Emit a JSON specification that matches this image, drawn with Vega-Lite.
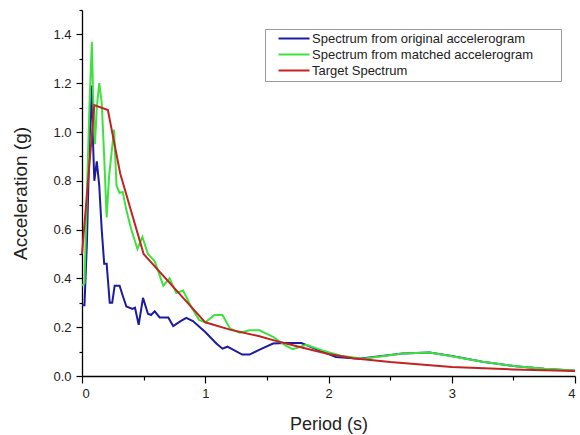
{
  "$schema": "https://vega.github.io/schema/vega-lite/v6.json",
  "width": 493,
  "height": 366,
  "autosize": {"type": "none"},
  "padding": {"left": 82, "top": 10, "right": 5, "bottom": 59},
  "background": "white",
  "config": {
    "view": {"stroke": null},
    "font": "Liberation Sans",
    "axis": {"domainColor": "#000", "tickColor": "#000", "labelColor": "#222", "titleColor": "#222", "grid": false, "labelFont": "Liberation Sans", "titleFont": "Liberation Sans", "titleFontWeight": "normal", "domainWidth": 1.3, "tickWidth": 1.2}
  },
  "data": {"values": [
    {"s": "Spectrum from original accelerogram", "T": 0, "A": 0.29},
    {"s": "Spectrum from original accelerogram", "T": 0.02, "A": 0.29},
    {"s": "Spectrum from original accelerogram", "T": 0.04, "A": 0.55},
    {"s": "Spectrum from original accelerogram", "T": 0.06, "A": 0.95},
    {"s": "Spectrum from original accelerogram", "T": 0.08, "A": 1.19},
    {"s": "Spectrum from original accelerogram", "T": 0.09, "A": 0.95},
    {"s": "Spectrum from original accelerogram", "T": 0.1, "A": 0.8},
    {"s": "Spectrum from original accelerogram", "T": 0.12, "A": 0.88},
    {"s": "Spectrum from original accelerogram", "T": 0.14, "A": 0.78},
    {"s": "Spectrum from original accelerogram", "T": 0.16, "A": 0.6},
    {"s": "Spectrum from original accelerogram", "T": 0.18, "A": 0.46},
    {"s": "Spectrum from original accelerogram", "T": 0.2, "A": 0.46},
    {"s": "Spectrum from original accelerogram", "T": 0.225, "A": 0.3},
    {"s": "Spectrum from original accelerogram", "T": 0.245, "A": 0.3},
    {"s": "Spectrum from original accelerogram", "T": 0.265, "A": 0.37},
    {"s": "Spectrum from original accelerogram", "T": 0.305, "A": 0.37},
    {"s": "Spectrum from original accelerogram", "T": 0.33, "A": 0.33},
    {"s": "Spectrum from original accelerogram", "T": 0.36, "A": 0.285},
    {"s": "Spectrum from original accelerogram", "T": 0.41, "A": 0.275},
    {"s": "Spectrum from original accelerogram", "T": 0.43, "A": 0.28},
    {"s": "Spectrum from original accelerogram", "T": 0.46, "A": 0.21},
    {"s": "Spectrum from original accelerogram", "T": 0.495, "A": 0.32},
    {"s": "Spectrum from original accelerogram", "T": 0.535, "A": 0.255},
    {"s": "Spectrum from original accelerogram", "T": 0.56, "A": 0.25},
    {"s": "Spectrum from original accelerogram", "T": 0.59, "A": 0.265},
    {"s": "Spectrum from original accelerogram", "T": 0.63, "A": 0.24},
    {"s": "Spectrum from original accelerogram", "T": 0.7, "A": 0.24},
    {"s": "Spectrum from original accelerogram", "T": 0.74, "A": 0.205},
    {"s": "Spectrum from original accelerogram", "T": 0.8, "A": 0.225},
    {"s": "Spectrum from original accelerogram", "T": 0.846, "A": 0.238},
    {"s": "Spectrum from original accelerogram", "T": 0.9, "A": 0.225},
    {"s": "Spectrum from original accelerogram", "T": 1.0, "A": 0.18},
    {"s": "Spectrum from original accelerogram", "T": 1.09, "A": 0.133},
    {"s": "Spectrum from original accelerogram", "T": 1.14, "A": 0.112},
    {"s": "Spectrum from original accelerogram", "T": 1.18, "A": 0.12},
    {"s": "Spectrum from original accelerogram", "T": 1.3, "A": 0.088},
    {"s": "Spectrum from original accelerogram", "T": 1.36, "A": 0.088},
    {"s": "Spectrum from original accelerogram", "T": 1.45, "A": 0.11},
    {"s": "Spectrum from original accelerogram", "T": 1.55, "A": 0.133},
    {"s": "Spectrum from original accelerogram", "T": 1.65, "A": 0.135},
    {"s": "Spectrum from original accelerogram", "T": 1.78, "A": 0.135},
    {"s": "Spectrum from original accelerogram", "T": 1.9, "A": 0.11},
    {"s": "Spectrum from original accelerogram", "T": 2.06, "A": 0.078},
    {"s": "Spectrum from original accelerogram", "T": 2.25, "A": 0.071},
    {"s": "Spectrum from original accelerogram", "T": 2.4, "A": 0.08},
    {"s": "Spectrum from original accelerogram", "T": 2.6, "A": 0.092},
    {"s": "Spectrum from original accelerogram", "T": 2.82, "A": 0.096},
    {"s": "Spectrum from original accelerogram", "T": 3.0, "A": 0.082},
    {"s": "Spectrum from original accelerogram", "T": 3.25, "A": 0.058},
    {"s": "Spectrum from original accelerogram", "T": 3.52, "A": 0.04},
    {"s": "Spectrum from original accelerogram", "T": 3.75, "A": 0.03},
    {"s": "Spectrum from original accelerogram", "T": 4.0, "A": 0.022},
    {"s": "Spectrum from matched accelerogram", "T": 0, "A": 0.37},
    {"s": "Spectrum from matched accelerogram", "T": 0.02, "A": 0.38},
    {"s": "Spectrum from matched accelerogram", "T": 0.04, "A": 0.75},
    {"s": "Spectrum from matched accelerogram", "T": 0.06, "A": 1.1},
    {"s": "Spectrum from matched accelerogram", "T": 0.08, "A": 1.37},
    {"s": "Spectrum from matched accelerogram", "T": 0.09, "A": 1.15},
    {"s": "Spectrum from matched accelerogram", "T": 0.105, "A": 0.95},
    {"s": "Spectrum from matched accelerogram", "T": 0.12, "A": 1.1},
    {"s": "Spectrum from matched accelerogram", "T": 0.14, "A": 1.2},
    {"s": "Spectrum from matched accelerogram", "T": 0.16, "A": 1.12},
    {"s": "Spectrum from matched accelerogram", "T": 0.18, "A": 0.9},
    {"s": "Spectrum from matched accelerogram", "T": 0.2, "A": 0.65},
    {"s": "Spectrum from matched accelerogram", "T": 0.22, "A": 0.82},
    {"s": "Spectrum from matched accelerogram", "T": 0.26, "A": 1.01},
    {"s": "Spectrum from matched accelerogram", "T": 0.28, "A": 0.78},
    {"s": "Spectrum from matched accelerogram", "T": 0.305, "A": 0.75},
    {"s": "Spectrum from matched accelerogram", "T": 0.33, "A": 0.755},
    {"s": "Spectrum from matched accelerogram", "T": 0.36, "A": 0.68},
    {"s": "Spectrum from matched accelerogram", "T": 0.4, "A": 0.6},
    {"s": "Spectrum from matched accelerogram", "T": 0.45, "A": 0.52},
    {"s": "Spectrum from matched accelerogram", "T": 0.49, "A": 0.57},
    {"s": "Spectrum from matched accelerogram", "T": 0.535, "A": 0.5},
    {"s": "Spectrum from matched accelerogram", "T": 0.59, "A": 0.47},
    {"s": "Spectrum from matched accelerogram", "T": 0.66, "A": 0.37},
    {"s": "Spectrum from matched accelerogram", "T": 0.71, "A": 0.4},
    {"s": "Spectrum from matched accelerogram", "T": 0.765, "A": 0.34},
    {"s": "Spectrum from matched accelerogram", "T": 0.82, "A": 0.35},
    {"s": "Spectrum from matched accelerogram", "T": 0.89, "A": 0.28},
    {"s": "Spectrum from matched accelerogram", "T": 0.95, "A": 0.23},
    {"s": "Spectrum from matched accelerogram", "T": 1.0, "A": 0.22},
    {"s": "Spectrum from matched accelerogram", "T": 1.075, "A": 0.25},
    {"s": "Spectrum from matched accelerogram", "T": 1.14, "A": 0.25},
    {"s": "Spectrum from matched accelerogram", "T": 1.2, "A": 0.195},
    {"s": "Spectrum from matched accelerogram", "T": 1.28, "A": 0.177},
    {"s": "Spectrum from matched accelerogram", "T": 1.36, "A": 0.187},
    {"s": "Spectrum from matched accelerogram", "T": 1.44, "A": 0.187},
    {"s": "Spectrum from matched accelerogram", "T": 1.55, "A": 0.16},
    {"s": "Spectrum from matched accelerogram", "T": 1.65, "A": 0.125},
    {"s": "Spectrum from matched accelerogram", "T": 1.71, "A": 0.11},
    {"s": "Spectrum from matched accelerogram", "T": 1.82, "A": 0.128},
    {"s": "Spectrum from matched accelerogram", "T": 1.95, "A": 0.105},
    {"s": "Spectrum from matched accelerogram", "T": 2.1, "A": 0.083},
    {"s": "Spectrum from matched accelerogram", "T": 2.28, "A": 0.071},
    {"s": "Spectrum from matched accelerogram", "T": 2.45, "A": 0.082},
    {"s": "Spectrum from matched accelerogram", "T": 2.6, "A": 0.092},
    {"s": "Spectrum from matched accelerogram", "T": 2.82, "A": 0.096},
    {"s": "Spectrum from matched accelerogram", "T": 3.0, "A": 0.081},
    {"s": "Spectrum from matched accelerogram", "T": 3.25, "A": 0.058},
    {"s": "Spectrum from matched accelerogram", "T": 3.52, "A": 0.04},
    {"s": "Spectrum from matched accelerogram", "T": 3.75, "A": 0.03},
    {"s": "Spectrum from matched accelerogram", "T": 4.0, "A": 0.023},
    {"s": "Target Spectrum", "T": 0, "A": 0.5},
    {"s": "Target Spectrum", "T": 0.1, "A": 1.11},
    {"s": "Target Spectrum", "T": 0.21, "A": 1.09},
    {"s": "Target Spectrum", "T": 0.31, "A": 0.83},
    {"s": "Target Spectrum", "T": 0.5, "A": 0.5},
    {"s": "Target Spectrum", "T": 1.0, "A": 0.22},
    {"s": "Target Spectrum", "T": 1.2, "A": 0.19},
    {"s": "Target Spectrum", "T": 1.44, "A": 0.163},
    {"s": "Target Spectrum", "T": 1.6, "A": 0.14},
    {"s": "Target Spectrum", "T": 1.8, "A": 0.115},
    {"s": "Target Spectrum", "T": 2.0, "A": 0.09},
    {"s": "Target Spectrum", "T": 2.2, "A": 0.073},
    {"s": "Target Spectrum", "T": 2.5, "A": 0.057},
    {"s": "Target Spectrum", "T": 3.0, "A": 0.037},
    {"s": "Target Spectrum", "T": 3.5, "A": 0.027},
    {"s": "Target Spectrum", "T": 4.0, "A": 0.02}
  ]},
  "mark": {"type": "line", "strokeWidth": 2},
  "encoding": {
    "x": {"field": "T", "type": "quantitative", "scale": {"domain": [0, 4], "nice": false},
      "axis": {"title": "Period (s)", "values": [0, 0.5, 1, 1.5, 2, 2.5, 3, 3.5, 4],
        "labelExpr": "datum.value % 1 == 0 ? format(datum.value, 'd') : ''",
        "tickSize": {"condition": {"test": "datum.value % 1 != 0", "value": 4}, "value": 7},
        "labelFontSize": 13, "titleFontSize": 18, "titlePadding": 15, "labelPadding": 4}},
    "y": {"field": "A", "type": "quantitative", "scale": {"domain": [0, 1.5], "nice": false},
      "axis": {"title": "Acceleration (g)", "values": [0, 0.1, 0.2, 0.3, 0.4, 0.5, 0.6, 0.7, 0.8, 0.9, 1.0, 1.1, 1.2, 1.3, 1.4, 1.5],
        "labelExpr": "round(datum.value * 10) % 2 == 0 ? format(datum.value, '.1f') : ''",
        "tickSize": {"condition": {"test": "round(datum.value * 10) % 2 == 1", "value": 3}, "value": 6},
        "labelFontSize": 13, "titleFontSize": 19, "titlePadding": 22, "labelPadding": 5}},
    "color": {"field": "s", "type": "nominal",
      "scale": {"domain": ["Spectrum from original accelerogram", "Spectrum from matched accelerogram", "Target Spectrum"], "range": ["#1c1ca0", "#3ee23e", "#c42222"]},
      "legend": {"title": "\u2003\u2003\u2003", "titleOrient": "right", "titleFontSize": 13, "titlePadding": 25, "orient": "none", "legendX": 183, "legendY": 19, "symbolType": "M-3.1,0H3.1", "symbolSize": 100, "symbolStrokeWidth": 2, "symbolOffset": 19.5,
        "labelFontSize": 13, "labelFont": "Liberation Sans", "labelColor": "#222", "labelLimit": 0, "fillColor": "white", "strokeColor": "#999", "padding": 3, "rowPadding": 2, "labelOffset": 11.5}}
  }
}
